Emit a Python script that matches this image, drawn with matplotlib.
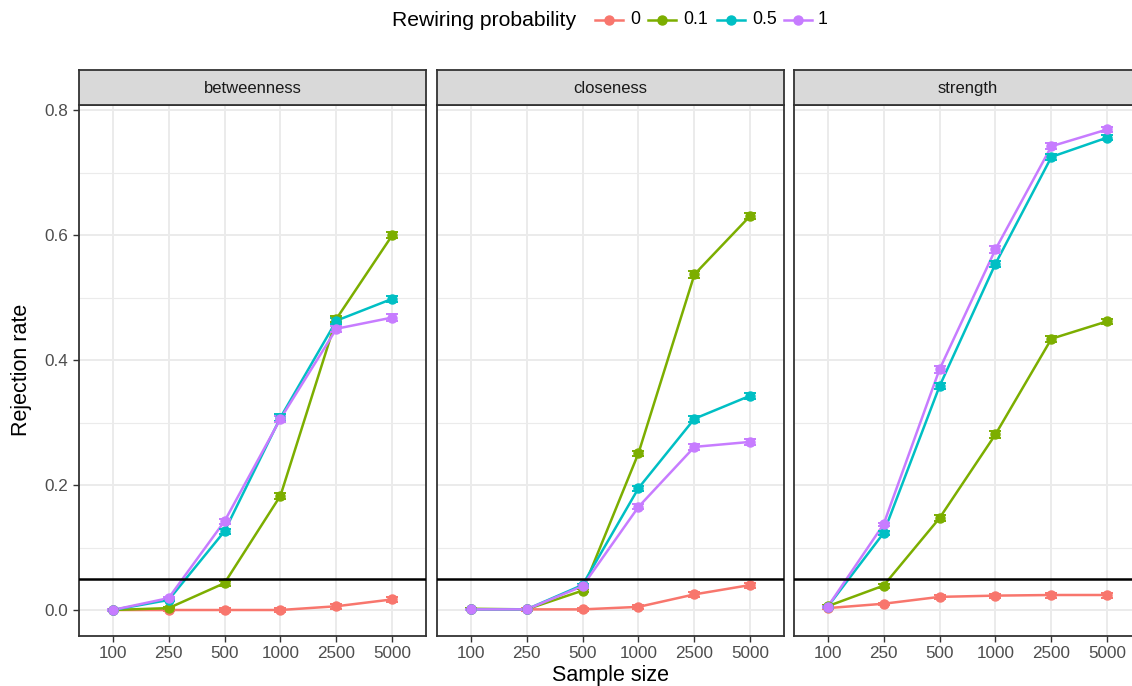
import matplotlib.pyplot as plt
from matplotlib.lines import Line2D
import numpy as np

plt.rcParams['font.family'] = ['Liberation Sans', 'DejaVu Sans']

# sample sizes (discrete axis) and panels
sample_sizes = ['100', '250', '500', '1000', '2500', '5000']
measures = ['betweenness', 'closeness', 'strength']
rewiring = ['0', '0.1', '0.5', '1']
colors = ['#F8766D', '#7CAE00', '#00BFC4', '#C77CFF']

# rejection rates
betweenness_p0 = [0.000, 0.000, 0.000, 0.000, 0.006, 0.017]
betweenness_p01 = [0.000, 0.003, 0.043, 0.183, 0.466, 0.600]
betweenness_p05 = [0.000, 0.016, 0.126, 0.308, 0.463, 0.498]
betweenness_p1 = [0.000, 0.019, 0.142, 0.306, 0.450, 0.468]

closeness_p0 = [0.001, 0.001, 0.001, 0.005, 0.025, 0.040]
closeness_p01 = [0.002, 0.001, 0.031, 0.251, 0.537, 0.631]
closeness_p05 = [0.001, 0.001, 0.040, 0.195, 0.306, 0.343]
closeness_p1 = [0.001, 0.001, 0.038, 0.165, 0.261, 0.269]

strength_p0 = [0.003, 0.010, 0.021, 0.023, 0.024, 0.024]
strength_p01 = [0.006, 0.039, 0.147, 0.281, 0.434, 0.462]
strength_p05 = [0.005, 0.123, 0.358, 0.554, 0.725, 0.756]
strength_p1 = [0.005, 0.137, 0.385, 0.577, 0.742, 0.769]

# half-widths of the error bars (small)
err_small = [0.001, 0.002, 0.003, 0.003, 0.004, 0.004]
betweenness_err = [0.001, 0.002, 0.004, 0.005, 0.005, 0.005]
closeness_err = [0.001, 0.001, 0.002, 0.004, 0.005, 0.005]
strength_err = [0.002, 0.003, 0.005, 0.005, 0.005, 0.004]

panel_values = {
    'betweenness': [betweenness_p0, betweenness_p01, betweenness_p05, betweenness_p1],
    'closeness': [closeness_p0, closeness_p01, closeness_p05, closeness_p1],
    'strength': [strength_p0, strength_p01, strength_p05, strength_p1],
}
panel_errs = {
    'betweenness': betweenness_err,
    'closeness': closeness_err,
    'strength': strength_err,
}

alpha_level = 0.05

W, H = 1132, 686
fig = plt.figure(figsize=(W / 100, H / 100), dpi=100)

panel_left = [79, 437, 794]
panel_w = 347
top, bottom, strip_h = 105, 636, 35

x = np.arange(len(sample_sizes))
for i, m in enumerate(measures):
    l = panel_left[i]
    w = panel_w if i < 2 else panel_w + 4
    ax = fig.add_axes([l / W, (H - bottom) / H, w / W, (bottom - top) / H])
    sax = fig.add_axes([l / W, (H - top) / H, w / W, strip_h / H])

    # strip
    sax.set_facecolor('#D9D9D9')
    sax.set_xticks([])
    sax.set_yticks([])
    for s in sax.spines.values():
        s.set_color('#333333')
        s.set_linewidth(1.3)
    sax.text(panel_w / (2 * w), 0.47, m, ha='center', va='center', fontsize=12,
             color='#1A1A1A', transform=sax.transAxes)

    ax.set_xlim(-0.6, -0.6 + 6.2 * w / panel_w)
    ax.set_ylim(-0.0416, 0.808)
    ax.set_yticks([0, 0.2, 0.4, 0.6, 0.8])
    ax.set_yticks([0.1, 0.3, 0.5, 0.7], minor=True)
    ax.set_xticks(x)
    ax.set_xticklabels(sample_sizes)
    ax.grid(True, which='major', color='#EBEBEB', lw=1.4)
    ax.grid(True, which='minor', axis='y', color='#EBEBEB', lw=0.8)
    ax.set_axisbelow(True)
    ax.tick_params(which='minor', length=0)
    ax.tick_params(which='major', length=4.5, width=1, color='#333333',
                   labelcolor='#4D4D4D', labelsize=12.3, pad=3)
    if i == 0:
        ax.set_yticklabels(['0.0', '0.2', '0.4', '0.6', '0.8'])
    else:
        ax.tick_params(axis='y', length=0, labelleft=False)
    for s in ax.spines.values():
        s.set_color('#333333')
        s.set_linewidth(1.3)

    vals = panel_values[m]
    for k in range(4):
        ax.plot(x, vals[k], color=colors[k], lw=1.8, zorder=3)
    for k in range(4):
        e = panel_errs[m] if k > 0 else err_small
        ax.errorbar(x, vals[k], yerr=e, fmt='none', ecolor=colors[k],
                    elinewidth=1.4, capsize=4.5, capthick=1.4, zorder=4)
    for k in range(4):
        ax.plot(x, vals[k], 'o', color=colors[k], ms=6.5, zorder=5)

    ax.axhline(alpha_level, color='black', lw=1.8, zorder=6)

fig.text(22 / W, 1 - 370 / H, 'Rejection rate', rotation=90, ha='center',
         va='center', fontsize=15.5)
fig.text(610 / W, 1 - 676 / H, 'Sample size', ha='center', va='center',
         fontsize=15.5)

# legend drawn across the top
ly = 1 - 20 / H
fig.text(392 / W, ly, 'Rewiring probability', ha='left', va='center',
         fontsize=15.2)
key_centers = [609, 662, 731, 798]
label_x = [630, 683, 752, 818]
for k in range(4):
    c = key_centers[k]
    fig.add_artist(Line2D([(c - 14) / W, (c + 14) / W], [ly, ly],
                          color=colors[k], lw=1.8))
    fig.add_artist(Line2D([c / W], [ly], marker='o', color=colors[k], ms=6.5))
    fig.text(label_x[k] / W, ly, rewiring[k], ha='left', va='center',
             fontsize=12.8)

fig.savefig('out.png', dpi=100)
